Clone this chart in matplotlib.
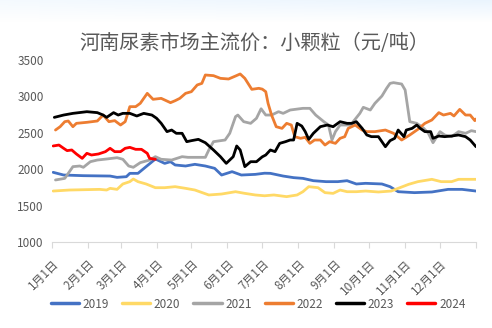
import numpy as np
import matplotlib
matplotlib.use("Agg")
import matplotlib.pyplot as plt

plt.rcParams['font.family'] = ['Noto Sans CJK SC', 'DejaVu Sans']

# Day-of-year positions and prices (元/吨) for each year
days_2019 = [1, 10, 27, 50, 56, 64, 67, 74, 81, 89, 97, 102, 106, 115, 123, 132, 140, 146,
             155, 163, 175, 183, 188, 199, 208, 216, 225, 236, 246, 254, 262, 270, 284, 291,
             298, 312, 327, 341, 353, 365]
vals_2019 = [1957, 1920, 1911, 1906, 1888, 1897, 1943, 1943, 2035, 2140, 2080, 2103, 2058,
             2044, 2067, 2044, 2012, 1920, 1966, 1920, 1929, 1945, 1943, 1906, 1884, 1874,
             1842, 1829, 1829, 1842, 1797, 1806, 1797, 1760, 1691, 1678, 1687, 1723, 1723,
             1700]

days_2020 = [1, 15, 41, 47, 50, 56, 61, 67, 70, 74, 81, 89, 97, 106, 115, 123, 135, 146,
             158, 166, 175, 183, 191, 202, 211, 216, 221, 229, 235, 242, 248, 254, 262, 270,
             281, 292, 298, 307, 315, 327, 335, 344, 350, 365]
vals_2020 = [1700, 1714, 1723, 1714, 1737, 1723, 1797, 1829, 1865, 1829, 1797, 1746, 1746,
             1760, 1737, 1714, 1646, 1659, 1691, 1668, 1646, 1635, 1646, 1623, 1646, 1691,
             1760, 1746, 1678, 1668, 1714, 1691, 1691, 1700, 1687, 1700, 1737, 1792, 1829,
             1861, 1829, 1829, 1861, 1861]

days_2021 = [3, 11, 18, 24, 27, 33, 39, 47, 56, 61, 66, 70, 76, 84, 89, 94, 103, 112, 117,
             132, 135, 139, 149, 153, 158, 160, 165, 171, 176, 180, 184, 189, 195, 199, 205,
             216, 222, 227, 234, 238, 241, 244, 248, 257, 265, 268, 274, 278, 284, 288, 291,
             294, 301, 304, 308, 314, 320, 324, 328, 334, 338, 344, 350, 356, 361, 365]
vals_2021 = [1852, 1874, 2035, 2044, 2026, 2103, 2126, 2140, 2158, 2136, 2044, 2026, 2090,
             2126, 2172, 2136, 2126, 2172, 2163, 2163, 2264, 2378, 2401, 2493, 2722, 2744,
             2653, 2630, 2699, 2830, 2744, 2744, 2790, 2767, 2813, 2836, 2836, 2744, 2653,
             2607, 2401, 2516, 2607, 2607, 2767, 2850, 2813, 2905, 3005, 3110, 3179, 3189,
             3170, 3088, 2653, 2630, 2561, 2493, 2364, 2516, 2470, 2447, 2516, 2493, 2529,
             2516]

days_2022 = [3, 7, 11, 14, 18, 21, 30, 39, 44, 49, 54, 59, 63, 67, 72, 76, 82, 87, 94, 102,
             106, 110, 115, 120, 125, 129, 132, 139, 145, 152, 158, 162, 166, 172, 178, 181,
             184, 186, 189, 193, 198, 202, 206, 209, 214, 218, 222, 226, 231, 235, 239, 244,
             248, 252, 255, 261, 267, 271, 278, 287, 294, 301, 308, 315, 321, 327, 333, 337,
             343, 346, 351, 356, 360, 364, 365]
vals_2022 = [2538, 2584, 2653, 2662, 2584, 2630, 2644, 2662, 2744, 2653, 2667, 2607, 2653,
             2859, 2859, 2905, 3042, 2960, 2973, 2914, 2941, 2973, 3042, 3065, 3157, 3179,
             3294, 3285, 3248, 3239, 3280, 3308, 3248, 3097, 3111, 3100, 3065, 2905, 2744,
             2584, 2561, 2630, 2607, 2447, 2424, 2438, 2355, 2401, 2401, 2332, 2378, 2355,
             2424, 2447, 2561, 2607, 2538, 2516, 2516, 2538, 2493, 2401, 2470, 2548, 2630,
             2676, 2777, 2744, 2767, 2731, 2822, 2744, 2744, 2667, 2690]

days_2023 = [2, 10, 18, 30, 39, 44, 47, 53, 57, 61, 67, 73, 79, 86, 90, 94, 99, 103, 107,
             112, 116, 120, 126, 132, 139, 145, 150, 156, 159, 162, 166, 171, 176, 181, 184,
             188, 192, 196, 201, 205, 208, 211, 215, 218, 221, 225, 231, 237, 242, 248, 254,
             258, 262, 267, 271, 275, 281, 287, 291, 295, 298, 303, 305, 310, 314, 317, 321,
             326, 328, 333, 338, 344, 350, 356, 360, 365]
vals_2023 = [2712, 2744, 2767, 2790, 2777, 2744, 2712, 2777, 2744, 2767, 2767, 2731, 2767,
             2744, 2700, 2630, 2516, 2538, 2493, 2493, 2378, 2392, 2410, 2364, 2264, 2172,
             2080, 2172, 2319, 2264, 2035, 2103, 2103, 2170, 2195, 2264, 2241, 2355, 2378,
             2401, 2401, 2630, 2593, 2516, 2410, 2493, 2584, 2607, 2584, 2653, 2630, 2630,
             2653, 2561, 2470, 2447, 2447, 2309, 2392, 2424, 2538, 2447, 2538, 2561, 2607,
             2561, 2516, 2516, 2424, 2456, 2447, 2456, 2470, 2447, 2401, 2309]

days_2024 = [1, 6, 10, 13, 17, 21, 26, 30, 34, 40, 46, 50, 54, 59, 63, 67, 72, 77, 82, 84,
             89]
vals_2024 = [2319, 2332, 2287, 2255, 2264, 2209, 2149, 2218, 2195, 2209, 2241, 2287, 2241,
             2241, 2287, 2300, 2273, 2273, 2218, 2149, 2136]

years = ['2019', '2020', '2021', '2022', '2023', '2024']
series_days = [days_2019, days_2020, days_2021, days_2022, days_2023, days_2024]
series_vals = [vals_2019, vals_2020, vals_2021, vals_2022, vals_2023, vals_2024]
colors = ['#4472C4', '#FFD966', '#A5A5A5', '#ED7D31', '#000000', '#FF0000']

month_starts = [0, 31, 59, 90, 120, 151, 181, 212, 243, 273, 304, 334]
month_labels = [f'{m}月1日' for m in range(1, 13)]
y_ticks = [1000, 1500, 2000, 2500, 3000, 3500]

title = '河南尿素市场主流价：小颗粒（元/吨）'
text_color = '#595959'

fig = plt.figure(figsize=(4.92, 3.28), dpi=100)

# faint blue wash along the top edge of the chart background
bg = fig.add_axes([0, 0, 1, 1], zorder=-10)
grad = np.ones((328, 492, 3))
rows = np.clip(1 - np.arange(328) / 22.0, 0, 1)[:, None]
cols = 0.5 + 0.5 * np.linspace(0, 1, 492)[None, :]
amt = rows * cols
tint = np.array([0.92, 0.96, 0.995])
for c in range(3):
    grad[:, :, c] = 1 - amt * (1 - tint[c])
bg.imshow(grad, aspect='auto', extent=[0, 1, 0, 1])
bg.axis('off')

ax = fig.add_axes([52 / 492, 1 - 242 / 328, 424 / 492, 182 / 328])
ax.patch.set_alpha(0)

for yr, d, v, c in zip(years, series_days, series_vals, colors):
    ax.plot(d, v, color=c, lw=2.0, label=yr, solid_joinstyle='round',
            solid_capstyle='round')

ax.set_xlim(0, 365)
ax.set_ylim(1000, 3500)
ax.set_yticks(y_ticks)
ax.set_yticklabels([str(t) for t in y_ticks], color=text_color, fontsize=8.5)
ax.tick_params(axis='y', length=0, pad=6)

ax.set_xticks(month_starts + [365])
ax.set_xticklabels(month_labels + [''], rotation=45, ha='right', va='top',
                   rotation_mode='anchor', color=text_color, fontsize=8.5)
ax.tick_params(axis='x', length=4, width=0.8, color='#d9d9d9', pad=7)

for s in ['left', 'right', 'top']:
    ax.spines[s].set_visible(False)
ax.spines['bottom'].set_color('#d9d9d9')
ax.spines['bottom'].set_linewidth(0.8)

fig.text(254 / 492, 1 - 44 / 328, title, ha='center', va='center',
         fontsize=14.5, color=text_color, fontweight='light')

leg = fig.legend(loc='center', bbox_to_anchor=(258 / 492, 1 - 304 / 328), ncol=6,
                 frameon=False, fontsize=8.5, handlelength=2.4, handletextpad=0.3,
                 columnspacing=1.1, labelcolor=text_color)
for line in leg.get_lines():
    line.set_linewidth(2.5)

fig.savefig('out.png', dpi=100)
